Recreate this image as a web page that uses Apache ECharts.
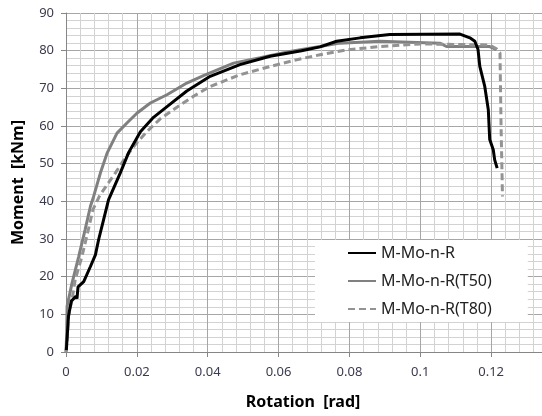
<!DOCTYPE html>
<html>
<head>
<meta charset="utf-8">
<script src="https://cdn.jsdelivr.net/npm/echarts@6/dist/echarts.min.js"></script>
<style>
  html, body { margin: 0; padding: 0; background: #fff; overflow: hidden; }
  /* the x axis runs on to 0.14, past the right edge of the picture */
  #chart { width: 564px; height: 416px; }
</style>
</head>
<body>
<div id="chart"></div>
<script>
// M-Mo-n-R
const rotationA = [0.0001, 0.0004, 0.0007, 0.0015, 0.0028, 0.0031, 0.0034, 0.005, 0.0069, 0.0083, 0.0092, 0.0106, 0.012, 0.0153, 0.0177, 0.021, 0.0247, 0.0294, 0.0341, 0.0407, 0.0491, 0.0576, 0.0665, 0.0717, 0.0764, 0.083, 0.0914, 0.1112, 0.114, 0.1154, 0.1163, 0.1168, 0.1182, 0.1192, 0.1196, 0.1206, 0.121, 0.1217];
const momentA   = [0.5, 5, 9.5, 13.5, 14.8, 14.2, 17.3, 18.7, 22.7, 25.8, 29.8, 35.1, 40.4, 47.5, 53.0, 58.5, 62.3, 65.8, 69.3, 73.2, 76.3, 78.5, 80.0, 81.0, 82.5, 83.4, 84.3, 84.4, 83.4, 82.5, 80.3, 75.8, 70.5, 64.3, 56.4, 53.7, 51.0, 48.8];

// M-Mo-n-R(T50)
const rotationB = [0, 0.0002, 0.0003, 0.0017, 0.0036, 0.0054, 0.0069, 0.0078, 0.0097, 0.0116, 0.0144, 0.0172, 0.02, 0.0238, 0.0285, 0.0341, 0.0388, 0.0473, 0.0548, 0.0632, 0.0717, 0.0773, 0.0886, 0.1055, 0.1074, 0.1196, 0.1215];
const momentB   = [0, 5, 12.1, 18.3, 25.4, 32.5, 38.7, 41.3, 47.5, 52.8, 58.1, 60.8, 63.4, 66.1, 68.3, 71.4, 73.4, 76.7, 78.1, 79.8, 81.1, 82.0, 82.5, 82.0, 81.1, 81.1, 80.3];

// M-Mo-n-R(T80)
const rotationC = [0, 0.0003, 0.0007, 0.0017, 0.0026, 0.0045, 0.0061, 0.0076, 0.0095, 0.0139, 0.0167, 0.0195, 0.0228, 0.0266, 0.0313, 0.036, 0.0407, 0.0491, 0.0576, 0.0651, 0.0717, 0.0792, 0.0886, 0.1, 0.1196, 0.1215, 0.1225, 0.1228, 0.1232];
const momentC   = [0, 3.3, 9.5, 13.9, 19.2, 25.4, 31.6, 37.8, 41.5, 47.5, 51.5, 55.0, 58.5, 61.9, 65.0, 67.9, 70.5, 73.6, 75.8, 77.6, 78.9, 80.2, 81.1, 81.8, 81.5, 80.5, 79.4, 60, 41.3];

const seriesNames = ["M-Mo-n-R", "M-Mo-n-R(T50)", "M-Mo-n-R(T80)"];

function pairs(xs, ys) {
  return xs.map((x, i) => [x, ys[i]]);
}

const chart = echarts.init(document.getElementById("chart"), null, { renderer: "canvas" });

const font = "Noto Sans";

const option = {
  animation: false,
  backgroundColor: "#fff",
  grid: {
    left: 66,
    top: 13,
    right: 2,
    bottom: 64,
    outerBoundsMode: "none",
  },
  legend: {
    orient: "vertical",
    left: 315,
    top: 240,
    padding: [4, 36, 4, 32],
    backgroundColor: "#fff",
    itemWidth: 28,
    itemHeight: 14,
    itemGap: 10,
    itemStyle: { opacity: 0 }, // line only, no marker in the key
    data: seriesNames,
    textStyle: {
      fontFamily: font,
      fontSize: 16,
      lineHeight: 18,
      color: "#222",
    },
  },
  xAxis: {
    type: "value",
    min: 0,
    max: 0.14,
    interval: 0.02,
    name: "Rotation  [rad]",
    nameLocation: "middle",
    nameGap: 42,
    nameTextStyle: {
      fontFamily: font,
      fontSize: 16,
      fontWeight: "bold",
      color: "#000",
      padding: [0, 22, 0, 0],
    },
    axisLine: { lineStyle: { color: "#868686", width: 1 } },
    axisTick: { show: true, length: 5, lineStyle: { color: "#868686" } },
    axisLabel: {
      fontFamily: font,
      fontSize: 13,
      color: "#3b3b4f",
      margin: 14,
      showMaxLabel: false,
      formatter: (v) => (v === 0 ? "0" : String(+v.toFixed(2))),
    },
    splitLine: { show: true, lineStyle: { color: "#a6a6a6", width: 1 } },
    minorTick: { show: false, splitNumber: 5 },
    minorSplitLine: { show: true, lineStyle: { color: "#d2d2d2", width: 1 } },
  },
  yAxis: {
    type: "value",
    min: 0,
    max: 90,
    interval: 10,
    name: "Moment  [kNm]",
    nameLocation: "middle",
    nameGap: 40,
    nameTextStyle: {
      fontFamily: font,
      fontSize: 16,
      fontWeight: "bold",
      color: "#000",
    },
    axisLine: { show: true, lineStyle: { color: "#868686", width: 1 } },
    axisTick: { show: true, length: 5, lineStyle: { color: "#868686" } },
    axisLabel: {
      fontFamily: font,
      fontSize: 13,
      color: "#3b3b4f",
      margin: 12,
    },
    splitLine: { show: true, lineStyle: { color: "#a6a6a6", width: 1 } },
    minorTick: { show: false, splitNumber: 5 },
    minorSplitLine: { show: true, lineStyle: { color: "#d2d2d2", width: 1 } },
  },
  series: [
    {
      name: seriesNames[0],
      type: "line",
      data: pairs(rotationA, momentA),
      symbol: "none",
      lineStyle: { color: "#000", width: 3 },
      itemStyle: { color: "#000" },
      z: 3,
    },
    {
      name: seriesNames[1],
      type: "line",
      data: pairs(rotationB, momentB),
      symbol: "none",
      lineStyle: { color: "#808080", width: 3 },
      itemStyle: { color: "#808080" },
      z: 2,
    },
    {
      name: seriesNames[2],
      type: "line",
      data: pairs(rotationC, momentC),
      symbol: "none",
      lineStyle: { color: "#939393", width: 3, type: [7, 4] },
      itemStyle: { color: "#939393" },
      z: 2,
    },
  ],
};

chart.setOption(option);
</script>
</body>
</html>
